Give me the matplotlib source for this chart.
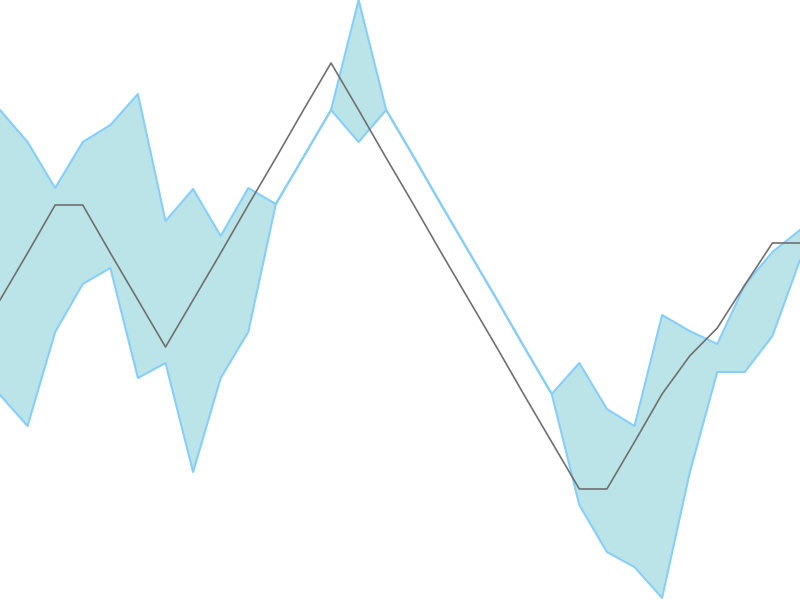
import matplotlib
matplotlib.use('Agg')
import matplotlib.pyplot as plt
import numpy as np

# Band (upper / lower) and the mid line, 30 steps
upper = [49.0, 45.8, 41.2, 45.8, 47.5, 50.6, 37.9, 41.1, 36.4, 41.2,
         39.6, 44.3, 49.0, 60.0, 49.0, 44.3, 39.5, 34.8, 30.1, 25.3,
         20.6, 23.7, 19.1, 17.4, 28.5, 26.9, 25.6, 31.5, 34.8, 37.0]
lower = [20.5, 17.4, 26.8, 31.6, 33.2, 22.2, 23.7, 12.8, 22.2, 26.8,
         39.6, 44.3, 49.0, 45.8, 49.0, 44.3, 39.5, 34.8, 30.1, 25.3,
         20.6, 9.5, 4.8, 3.3, 0.2, 12.7, 22.8, 22.8, 26.4, 34.0]
mid = [30.0, 34.7, 39.5, 39.5, 34.7, 30.0, 25.3, 30.0, 34.7, 39.5,
       44.2, 49.0, 53.7, 49.0, 44.2, 39.5, 34.7, 30.0, 25.3, 20.5,
       15.8, 11.1, 11.1, 15.8, 20.6, 24.4, 27.2, 31.5, 35.7, 35.7]

x = np.arange(len(mid))

fig = plt.figure(figsize=(8, 6), dpi=100)
ax = fig.add_axes([0, 0, 1, 1])

ax.fill_between(x, lower, upper, color='powderblue', alpha=0.85, linewidth=0)
ax.plot(x, upper, color='lightskyblue', linewidth=1.5)
ax.plot(x, lower, color='lightskyblue', linewidth=1.5)
ax.plot(x, mid, color='#707070', linewidth=1.2)

ax.set_xlim(0, len(mid) - 1)
ax.set_ylim(0, 60)
ax.axis('off')

fig.savefig('out.png', dpi=100)
